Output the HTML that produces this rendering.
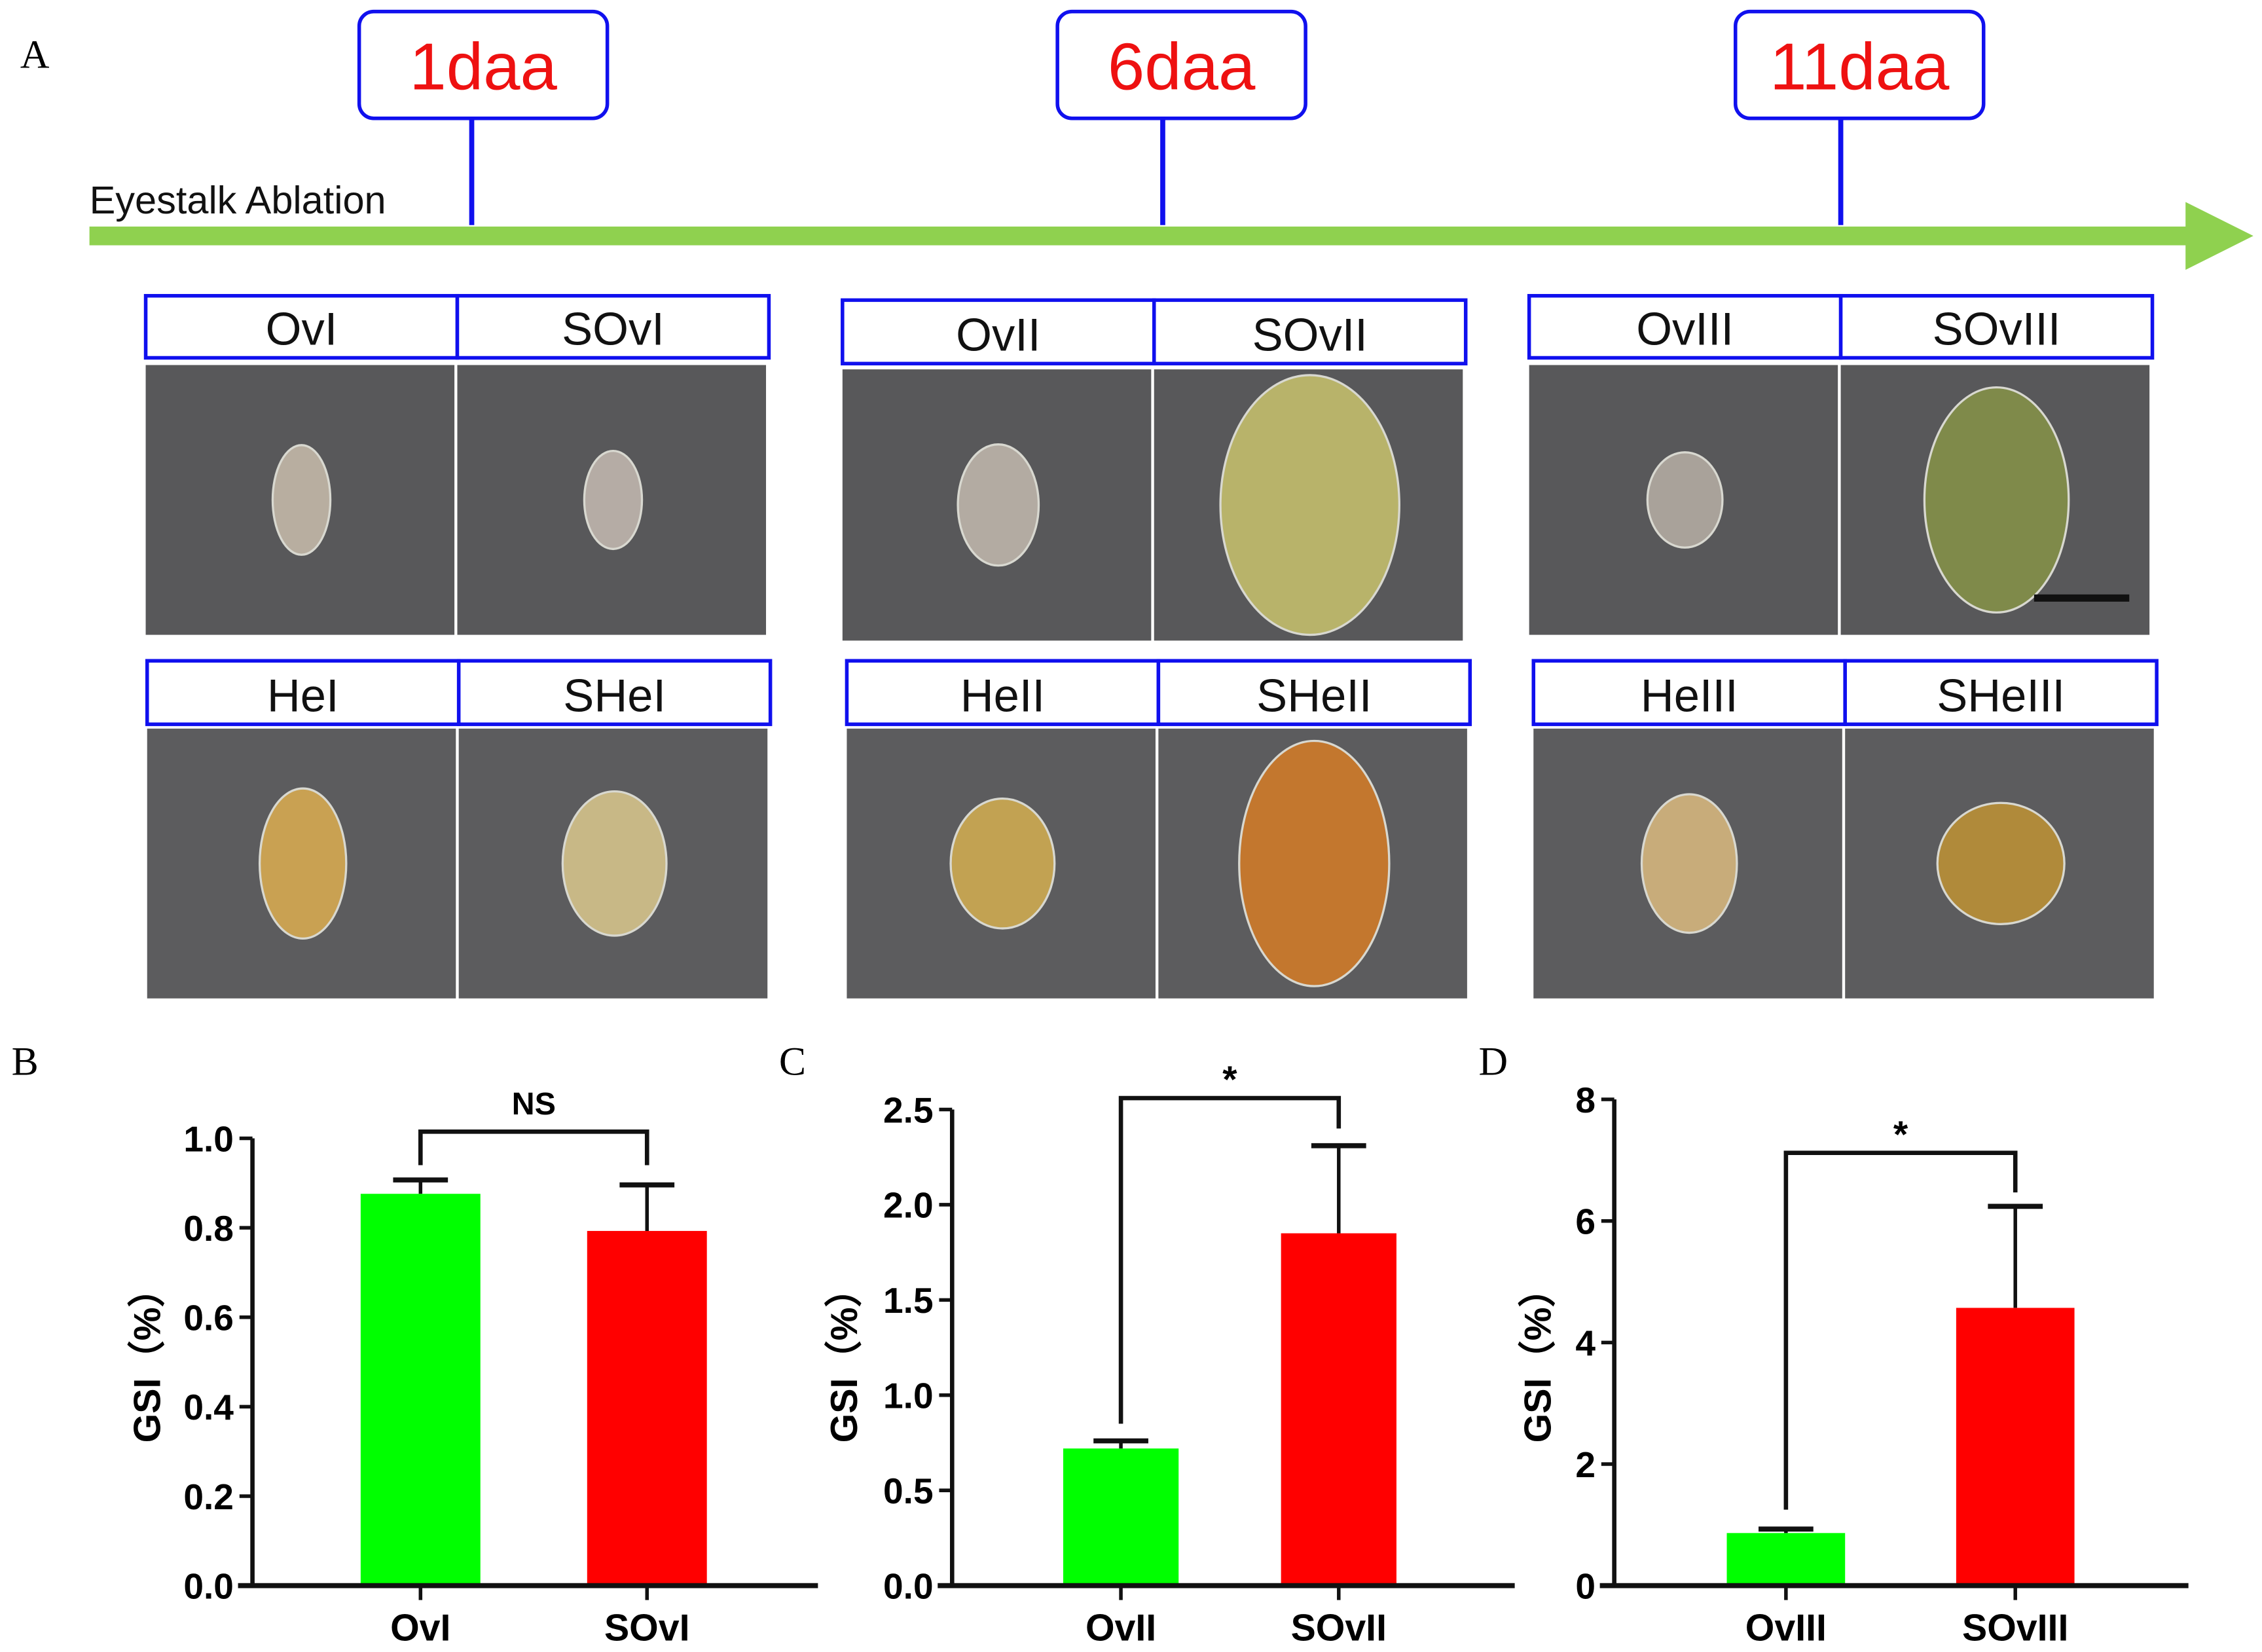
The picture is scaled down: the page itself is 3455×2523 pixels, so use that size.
<!DOCTYPE html>
<html><head><meta charset="utf-8"><style>
html,body{margin:0;padding:0;background:#fff;}
svg{display:block;}
.narrow{font-family:"Liberation Sans Narrow","Liberation Sans",sans-serif;font-weight:bold;}
</style></head>
<body>
<svg id="fig" xmlns="http://www.w3.org/2000/svg" width="3455" height="2523" viewBox="0 0 1568 1145">
<rect x="0" y="0" width="1568" height="1145" fill="#fff"/>
<g id="panelA"></g>
<g id="charts"></g>
</svg>
<script>
// ---------- chart data ----------
const catsB = ["OvI","SOvI"];
const valsB = [0.876, 0.793];
const errsB = [0.907, 0.896];
const ticksB = ["0.0","0.2","0.4","0.6","0.8","1.0"];
const catsC = ["OvII","SOvII"];
const valsC = [0.72, 1.85];
const errsC = [0.76, 2.31];
const ticksC = ["0.0","0.5","1.0","1.5","2.0","2.5"];
const catsD = ["OvIII","SOvIII"];
const valsD = [0.865, 4.57];
const errsD = [0.93, 6.24];
const ticksD = ["0","2","4","6","8"];
const sigB = "NS", sigC = "*", sigD = "*";

const NS = "http://www.w3.org/2000/svg";
function mk(tag, attrs, parent, text){
  const e = document.createElementNS(NS, tag);
  for (const k in attrs) e.setAttribute(k, attrs[k]);
  if (text !== undefined) e.textContent = text;
  parent.appendChild(e); return e;
}

// ---------- Panel A ----------
const A = document.getElementById('panelA');
let t = mk('text',{x:14,y:47,'font-family':'Liberation Serif, serif','font-size':28},A,'A');
 
let ar = mk('polygon',{points:'62,157 1515,157 1515,140 1562,163.5 1515,187 1515,170 62,170',fill:'#8fd14f'},A);
 
t = mk('text',{x:62,y:148,'font-family':'Liberation Sans, sans-serif','font-size':27,fill:'#111'},A,'Eyestalk Ablation');
 
const days = [["1daa",249,327],["6daa",733,806],["11daa",1203,1276]];
days.forEach(d=>{
  let l = mk('line',{x1:d[2],y1:82,x2:d[2],y2:156,stroke:'#1010ee','stroke-width':3.5},A);
   
  let r = mk('rect',{x:d[1],y:8,width:172,height:74,rx:10,fill:'#fff',stroke:'#1010ee','stroke-width':2.5},A);
   
  let tt = mk('text',{x:d[1]+86,y:62,'text-anchor':'middle','font-family':'Liberation Sans, sans-serif','font-size':46,fill:'#ee1111'},A,d[0]);
   
});
// photo grid
const groups = [
  {x:101,lab:[205,248],ph:[253,440],names:["OvI","SOvI"],row:0},
  {x:584,lab:[208,252],ph:[256,444],names:["OvII","SOvII"],row:0},
  {x:1060,lab:[205,248],ph:[253,440],names:["OvIII","SOvIII"],row:0},
  {x:102,lab:[458,502],ph:[505,692],names:["HeI","SHeI"],row:1},
  {x:587,lab:[458,502],ph:[505,692],names:["HeII","SHeII"],row:1},
  {x:1063,lab:[458,502],ph:[505,692],names:["HeIII","SHeIII"],row:1}
];
// organ shapes: [rx, ry, fill] for each photo
const organs = [
  [[20,38,'#b8aea0'],[20,34,'#b5aca5']],
  [[28,42,'#b3aba2'],[62,90,'#b8b36a']],
  [[26,33,'#a9a29a'],[50,78,'#7f8a4a']],
  [[30,52,'#c9a152'],[36,50,'#c8b886']],
  [[36,45,'#c2a252'],[52,85,'#c3772e']],
  [[33,48,'#c8ac7a'],[44,42,'#b08a3a']]
];
groups.forEach((g,gi)=>{
  const w = 216;
  g.names.forEach((n,i)=>{
    const x = g.x + i*w;
    let r = mk('rect',{x:x,y:g.ph[0],width:w-2,height:g.ph[1]-g.ph[0],fill:g.row?'#5c5c5e':'#58585a'},A);
     
    const o = organs[gi][i];
    let e = mk('ellipse',{cx:x+w/2,cy:(g.ph[0]+g.ph[1])/2,rx:o[0],ry:o[1],fill:o[2],stroke:'#d8d8d0','stroke-width':1.5},A);
     
    let lb = mk('rect',{x:x,y:g.lab[0],width:w,height:g.lab[1]-g.lab[0],fill:'#fff',stroke:'#1010ee','stroke-width':2.5},A);
     
    let tt = mk('text',{x:x+w/2,y:g.lab[1]-9,'text-anchor':'middle','font-family':'Liberation Sans, sans-serif','font-size':32,fill:'#111'},A,n);
     
  });
});
let sb = mk('rect',{x:1410,y:412,width:66,height:5,fill:'#111'},A);
 

// ---------- Charts ----------
const C = document.getElementById('charts');
function chart(o){
  const g = mk('g',{},C);
   
  const y0 = 1099, yTop = o.yTop;
  const ymax = parseFloat(o.ticks[o.ticks.length-1]);
  const yS = v => y0 - (v/ymax)*(y0-yTop);
  let pl = mk('text',{x:o.letterX,y:745,'font-family':'Liberation Serif, serif','font-size':28},g,o.id.toUpperCase());
   
  // bars
  const cols = ['#00ff00','#ff0000'];
  o.cats.forEach((c,i)=>{
    const bx = o.barX[i], bw = o.barW;
    const yt = yS(o.vals[i]), ye = yS(o.errs[i]);
    let b = mk('rect',{x:bx,y:yt,width:bw,height:y0-yt,fill:cols[i]},g);
     
    const cx = bx+bw/2;
    let el = mk('line',{x1:cx,y1:yt,x2:cx,y2:ye,stroke:'#111','stroke-width':2.5},g);
     
    let ec = mk('line',{x1:cx-19,y1:ye,x2:cx+19,y2:ye,stroke:'#111','stroke-width':3.5},g);
     
    let tk = mk('line',{x1:cx,y1:y0,x2:cx,y2:y0+10,stroke:'#111','stroke-width':2.5},g);
     
    let xl = mk('text',{x:cx,y:1137,'text-anchor':'middle','font-size':26,'class':'narrow'},g,c);
     
  });
  // axes
  let ya = mk('line',{x1:o.axisX,y1:yTop,x2:o.axisX,y2:y0,stroke:'#111','stroke-width':3},g);
   
  let xa = mk('line',{x1:o.axisX-10,y1:y0,x2:o.xEnd,y2:y0,stroke:'#111','stroke-width':3.5},g);
   
  o.ticks.forEach(tl=>{
    const y = yS(parseFloat(tl));
    let tk = mk('line',{x1:o.axisX-9,y1:y,x2:o.axisX,y2:y,stroke:'#111','stroke-width':2.5},g);
     
    let tt = mk('text',{x:o.axisX-13,y:y+9,'text-anchor':'end','font-size':25,'class':'narrow'},g,tl);
     
  });
  let yt = mk('text',{x:0,y:0,transform:`translate(${o.titleX},940) rotate(-90)`,'text-anchor':'middle','font-family':'Liberation Sans, sans-serif','font-weight':'bold','font-size':26},g,'GSI（%）');
   
  // significance bracket
  const x1 = o.barX[0]+o.barW/2, x2 = o.barX[1]+o.barW/2;
  const by = yS(o.brk[0]);
  let br = mk('polyline',{points:`${x1},${yS(o.brk[1])} ${x1},${by} ${x2},${by} ${x2},${yS(o.brk[2])}`,fill:'none',stroke:'#111','stroke-width':3},g);
   
  let st = mk('text',{x:(x1+x2)/2,y:by-o.sigOff,'text-anchor':'middle','font-size':o.sig==='*'?26:22,'class':'narrow'},g,o.sig);
   
}
chart({id:'b',cats:catsB,vals:valsB,errs:errsB,ticks:ticksB,sig:sigB,yTop:789,axisX:175,xEnd:567,barX:[250,407],barW:83,letterX:8,titleX:111,brk:[1.015,0.94,0.94],sigOff:12});
chart({id:'c',cats:catsC,vals:valsC,errs:errsC,ticks:ticksC,sig:sigC,yTop:769,axisX:660,xEnd:1050,barX:[737,888],barW:80,letterX:540,titleX:594,brk:[2.56,0.85,2.40],sigOff:4});
chart({id:'d',cats:catsD,vals:valsD,errs:errsD,ticks:ticksD,sig:sigD,yTop:762,axisX:1119,xEnd:1517,barX:[1197,1356],barW:82,letterX:1025,titleX:1075,brk:[7.12,1.25,6.47],sigOff:4});
</script>
</body></html>
